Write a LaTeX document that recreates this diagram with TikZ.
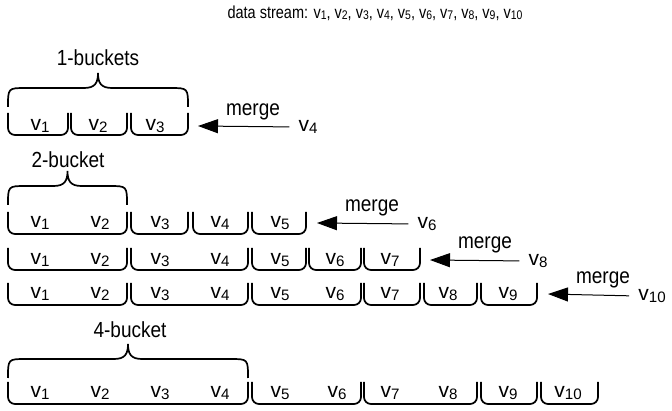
\documentclass[tikz,border=0pt]{standalone}
\usepackage{fontspec}
\setmainfont{Liberation Sans}
\usetikzlibrary{arrows.meta}
\tikzstyle{ttl}=[font=\fontsize{14.5}{17}\selectfont,inner sep=0pt]
\tikzstyle{lbl}=[font=\fontsize{19}{21}\selectfont,inner sep=0pt]
\tikzstyle{vlbl}=[font=\fontsize{21}{22}\selectfont,inner sep=1pt]
\tikzstyle{bktline}=[line width=1.7pt,rounded corners=7pt]
\tikzstyle{braceline}=[line width=1.7pt]
\tikzstyle{mergearrow}=[line width=1pt,-{Triangle[length=20pt,width=14pt]}]
\newcommand{\tall}[1]{\scalebox{1}[1.15]{#1}}
\newcommand{\vv}[1]{v\raisebox{-0.08em}{\scalebox{0.72}{#1}}}
\newcommand{\bkt}[3]{\draw[bktline] (#1,#3) -- (#1,#3+22) -- (#2,#3+22) -- (#2,#3);}
\newcommand{\cbrace}[3]{%
  \draw[braceline] (#1,#3) .. controls (#1,#3-19) .. (#1+18,#3-19)
    -- ({(#1+#2)/2-14},#3-19) .. controls ({(#1+#2)/2-3},#3-19) and ({(#1+#2)/2},#3-24) .. ({(#1+#2)/2},#3-34)
    .. controls ({(#1+#2)/2},#3-24) and ({(#1+#2)/2+3},#3-19) .. ({(#1+#2)/2+14},#3-19)
    -- (#2-18,#3-19) .. controls (#2,#3-19) .. (#2,#3);}

\begin{document}
\begin{tikzpicture}[x=1pt,y=-1pt]
\useasboundingbox (0,0) rectangle (672,411);
\node[ttl] (title) at (375,13) {\scalebox{1}[1.2]{data stream: \vv1, \vv2, \vv3, \vv4, \vv5, \vv6, \vv7, \vv8, \vv9, \vv{10}}};

\cbrace{8}{188}{107}
\node[lbl] (one) at (98,58) {\tall{1-buckets}};
\bkt{8}{68}{113}
\bkt{71}{127}{113}
\bkt{131}{188}{113}
\foreach \i/\x in {1/40,2/98,3/155}
    \node[vlbl] (r1v\i) at (\x,126) {\vv{\i}};
\node[vlbl] (in1) at (308,127) {\vv4};
\coordinate (h1) at (198,126);
\draw[mergearrow,shorten <=8pt] (in1.west) -- (h1);
\node[lbl] (m1) at (253,112) {\tall{merge}};

\cbrace{8}{127}{205}
\node[lbl] (two) at (68,160) {\tall{2-bucket}};
\bkt{8}{127}{212}
\bkt{131}{188}{212}
\bkt{193}{248}{212}
\bkt{252}{306}{212}
\foreach \i/\x in {1/40,2/100,3/160,4/220,5/280}
    \node[vlbl] (r2v\i) at (\x,223) {\vv{\i}};
\node[vlbl] (in2) at (427,224) {\vv6};
\coordinate (h2) at (317,223);
\draw[mergearrow,shorten <=8pt] (in2.west) -- (h2);
\node[lbl] (m2) at (372,208) {\tall{merge}};

\bkt{8}{127}{248}
\bkt{131}{248}{248}
\bkt{252}{306}{248}
\bkt{309}{361}{248}
\bkt{364}{420}{248}
\foreach \i/\x in {1/40,2/100,3/160,4/220,5/280,6/335,7/390}
    \node[vlbl] (r3v\i) at (\x,260) {\vv{\i}};
\node[vlbl] (in3) at (538,261) {\vv8};
\coordinate (h3) at (430,260);
\draw[mergearrow,shorten <=8pt] (in3.west) -- (h3);
\node[lbl] (m3) at (485,245) {\tall{merge}};

\bkt{8}{127}{283}
\bkt{131}{248}{283}
\bkt{252}{361}{283}
\bkt{364}{420}{283}
\bkt{424}{477}{283}
\bkt{481}{537}{283}
\foreach \i/\x in {1/40,2/100,3/160,4/220,5/280,6/335,7/390,8/448,9/508}
    \node[vlbl] (r4v\i) at (\x,294) {\vv{\i}};
\node[vlbl] (in4) at (652,296) {\vv{10}};
\coordinate (h4) at (548,294);
\draw[mergearrow,shorten <=8pt] (in4.west) -- (h4);
\node[lbl] (m4) at (603,280) {\tall{merge}};

\cbrace{8}{248}{378}
\node[lbl] (four) at (130,330) {\tall{4-bucket}};
\bkt{8}{248}{382}
\bkt{252}{361}{382}
\bkt{364}{477}{382}
\bkt{481}{537}{382}
\bkt{541}{598}{382}
\foreach \i/\x in {1/40,2/100,3/160,4/220,5/280,6/337,7/390,8/448,9/508,10/568}
    \node[vlbl] (r5v\i) at (\x,393) {\vv{\i}};
\end{tikzpicture}
\end{document}
